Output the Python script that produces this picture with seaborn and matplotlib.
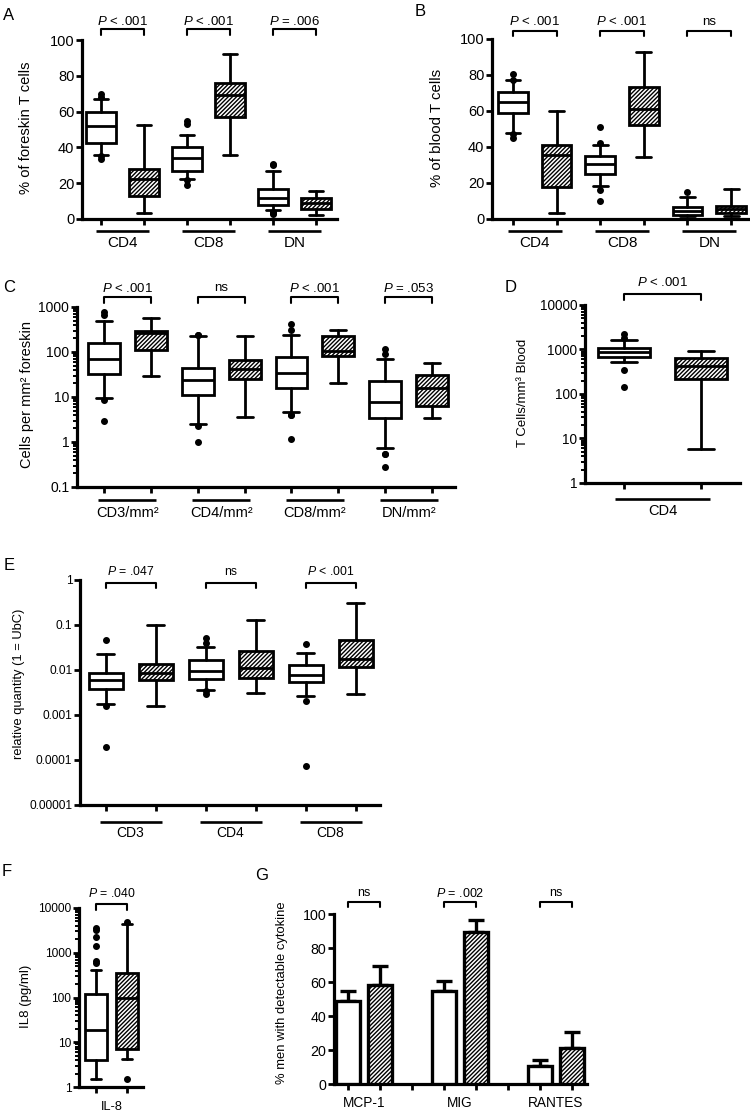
import numpy as np
import pandas as pd
import matplotlib
matplotlib.use("Agg")
import matplotlib.pyplot as plt
import matplotlib.transforms as mtransforms
from matplotlib.ticker import LogLocator, NullFormatter, NullLocator
import seaborn as sns

# ---------------- data ----------------
# Panel A: % of foreskin T cells (white = control, hatched = case)
A_groups = ["CD4", "CD8", "DN"]
A_whislo = [35.7, 3.3, 22.3, 36.0, 4.8, 2.4]
A_q1 = [42.7, 13.0, 26.8, 57.2, 8.0, 5.6]
A_med = [51.7, 22.5, 34.2, 69.0, 12.0, 8.9]
A_q3 = [60.0, 27.9, 40.3, 76.2, 16.7, 11.5]
A_whishi = [67.0, 52.6, 47.2, 92.4, 26.8, 15.8]
A_fliers = [[68.0, 69.8, 35.0, 33.6], [], [55.0, 53.0, 22.0, 18.8], [],
            [30.0, 30.6, 4.1, 3.2, 3.0], []]
A_pvals = ["P < .001", "P < .001", "P = .006"]

# Panel B: % of blood T cells
B_groups = ["CD4", "CD8", "DN"]
B_whislo = [47.8, 3.3, 18.1, 34.4, 1.5, 1.9]
B_q1 = [59.0, 17.6, 25.2, 52.2, 2.2, 3.1]
B_med = [65.0, 35.6, 30.6, 61.3, 4.6, 5.6]
B_q3 = [70.6, 41.0, 35.2, 73.1, 6.9, 7.4]
B_whishi = [77.2, 60.2, 41.3, 92.6, 12.0, 16.9]
B_fliers = [[80.7, 77.5, 45.0, 47.0], [], [51.0, 42.2, 16.3, 10.0], [], [14.8], []]
B_pvals = ["P < .001", "P < .001", "ns"]

# Panel C: cells per mm2 foreskin (log)
C_groups = ["CD3/mm²", "CD4/mm²", "CD8/mm²", "DN/mm²"]
C_whislo = [9.5, 29.0, 2.55, 3.65, 4.7, 20.5, 0.74, 3.5]
C_q1 = [32.0, 111.0, 10.9, 24.7, 15.9, 83.0, 3.4, 6.4]
C_med = [71.0, 260.0, 23.5, 42.6, 34.0, 103.0, 7.9, 16.0]
C_q3 = [158.0, 288.0, 45.0, 65.0, 77.0, 227.0, 22.7, 31.0]
C_whishi = [480.0, 580.0, 231.0, 231.0, 235.0, 313.0, 71.0, 57.0]
C_fliers = [[760.0, 676.0, 8.7, 2.9], [], [240.0, 240.0, 2.27, 1.0], [],
            [425.0, 313.0, 4.0, 3.9, 1.19], [], [118.0, 89.0, 0.55, 0.55, 0.28], []]
C_pvals = ["P < .001", "ns", "P < .001", "P = .053"]

# Panel D: T cells / mm3 blood (log)
D_groups = ["CD4"]
D_whislo = [515.0, 5.9]
D_q1 = [689.0, 216.0]
D_med = [880.0, 426.0]
D_q3 = [1097.0, 634.0]
D_whishi = [1635.0, 940.0]
D_fliers = [[2196.0, 1840.0, 346.0, 140.0], []]
D_pvals = ["P < .001"]

# Panel E: relative quantity (1 = UbC) (log)
E_groups = ["CD3", "CD4", "CD8"]
E_whislo = [0.00167, 0.00158, 0.0035, 0.0030, 0.0026, 0.0028]
E_q1 = [0.0036, 0.0057, 0.0062, 0.0065, 0.0053, 0.0113]
E_med = [0.0057, 0.0084, 0.0095, 0.0107, 0.0074, 0.0173]
E_q3 = [0.0084, 0.0134, 0.0159, 0.0264, 0.0127, 0.0464]
E_whishi = [0.0223, 0.097, 0.0319, 0.129, 0.0234, 0.293]
E_fliers = [[0.045, 0.00153, 0.00019], [], [0.0497, 0.039, 0.0033, 0.0028], [],
            [0.0366, 0.0020, 0.0000711], []]
E_pvals = ["P = .047", "ns", "P < .001"]

# Panel F: IL8 (pg/ml) (log)
F_groups = ["IL-8"]
F_whislo = [1.5, 4.2]
F_q1 = [4.0, 6.9]
F_med = [18.7, 99.0]
F_q3 = [118.0, 348.0]
F_whishi = [414.0, 4370.0]
F_fliers = [[3500.0, 3270.0, 2200.0, 1430.0, 670.0, 600.0], [4760.0, 1.5]]
F_pvals = ["P = .040"]

# Panel G: % men with detectable cytokine
G_cytokines = ["MCP-1", "MIG", "RANTES"]
G_control = [49.0, 55.0, 10.5]
G_control_err = [6.0, 5.5, 3.5]
G_case = [58.0, 89.5, 21.0]
G_case_err = [11.5, 7.0, 9.7]
G_pvals = ["ns", "P = .002", "ns"]

# ---------------- style ----------------
sns.set_theme(style="ticks", rc={
    "axes.edgecolor": "black", "xtick.color": "black", "ytick.color": "black",
    "text.color": "black", "axes.labelcolor": "black"})
plt.rcParams['font.family'] = ['Liberation Sans', 'DejaVu Sans']
plt.rcParams['mathtext.fontset'] = 'custom'
plt.rcParams['mathtext.rm'] = 'Liberation Sans'
plt.rcParams['mathtext.it'] = 'Liberation Sans:italic'
plt.rcParams['hatch.linewidth'] = 1.0
plt.rcParams['hatch.color'] = '#222222'

HATCH = '////////'
LW = 2.0
W, H = 750, 1117
fig = plt.figure(figsize=(W / 100, H / 100), dpi=100)


def fy(py):
    return 1 - py / H


def make_ax(l, t, r, b):
    return fig.add_axes([l / W, 1 - b / H, (r - l) / W, (b - t) / H])


def fmt(v):
    return np.format_float_positional(float(v), trim='-')


def ptext(s):
    return r"$P$" + s[1:] if s.startswith("P") else s


def style_ax(ax, tick_fs):
    for s in ['top', 'right']:
        ax.spines[s].set_visible(False)
    for s in ['left', 'bottom']:
        ax.spines[s].set_linewidth(2.3)
        ax.spines[s].set_color('black')
    ax.tick_params(axis='both', which='major', length=4.5, width=2, color='black',
                   labelsize=tick_fs, pad=1)
    ax.tick_params(axis='y', which='minor', length=3.2, width=1.4, color='black')
    ax.tick_params(axis='x', which='minor', length=0)


def bracket(ax, x1, x2, y_line, y_leg, text, y_text, fs):
    tr = mtransforms.blended_transform_factory(ax.transData, fig.transFigure)
    ax.plot([x1, x1, x2, x2], [fy(y_leg), fy(y_line), fy(y_line), fy(y_leg)],
            transform=tr, color='black', lw=1.5, clip_on=False)
    ax.text((x1 + x2) / 2, fy(y_text), ptext(text), transform=tr, ha='center',
            va='center', fontsize=fs)


def box_panel(rect, xlim, ylim, groups, lo, q1, med, q3, hi, fliers, pvals,
              yticks, log=False, minor=False, tick_fs=11, group_fs=11, p_fs=9.5,
              underline_y=None, label_y=None, br=None):
    ax = make_ax(*rect)
    n = len(lo)
    pos = np.arange(1, n + 1)
    stats = [dict(whislo=lo[i], q1=q1[i], med=med[i], q3=q3[i], whishi=hi[i],
                  fliers=np.array(fliers[i])) for i in range(n)]
    bp = ax.bxp(stats, positions=pos, widths=0.68, capwidths=0.34,
                patch_artist=True, manage_ticks=False,
                boxprops=dict(facecolor='white', edgecolor='black', linewidth=LW),
                whiskerprops=dict(color='black', linewidth=LW),
                capprops=dict(color='black', linewidth=LW),
                medianprops=dict(color='black', linewidth=LW, solid_capstyle='butt'),
                flierprops=dict(marker='o', markerfacecolor='black',
                                markeredgecolor='black', markersize=4,
                                linestyle='none'))
    for i, b in enumerate(bp['boxes']):
        if i % 2:
            b.set_hatch(HATCH)
    if log:
        ax.set_yscale('log')
    ax.set_xlim(*xlim)
    ax.set_ylim(*ylim)
    ax.set_xticks(pos)
    ax.set_xticklabels([])
    ax.set_yticks(yticks, labels=[fmt(v) for v in yticks])
    if minor:
        ax.yaxis.set_minor_locator(LogLocator(base=10, subs=np.arange(2, 10), numticks=50))
        ax.yaxis.set_minor_formatter(NullFormatter())
    else:
        ax.yaxis.set_minor_locator(NullLocator())
    style_ax(ax, tick_fs)
    tr = mtransforms.blended_transform_factory(ax.transData, fig.transFigure)
    for g, name in enumerate(groups):
        a, b = pos[2 * g], pos[2 * g + 1]
        if underline_y is not None:
            ax.plot([a - 0.12, b + 0.12], [fy(underline_y)] * 2, transform=tr,
                    color='black', lw=1.9, clip_on=False, solid_capstyle='butt')
        ax.text((a + b) / 2, fy(label_y), name, transform=tr, ha='center',
                va='center', fontsize=group_fs)
        bracket(ax, a, b, br[0], br[1], pvals[g], br[2], p_fs)
    return ax


# ---------------- Panel A ----------------
box_panel((82, 40, 337, 219), (0.558, 6.49), (0, 100), A_groups, A_whislo, A_q1,
          A_med, A_q3, A_whishi, A_fliers, A_pvals, [0, 20, 40, 60, 80, 100],
          tick_fs=10.5, group_fs=11, p_fs=9.5, underline_y=231, label_y=243,
          br=(29.3, 34.5, 21.5))
fig.text(26 / W, fy(128), "% of foreskin T cells", rotation=90, ha='center',
         va='center', fontsize=10.6)
fig.text(9 / W, fy(15.5), "A", ha='center', va='center', fontsize=12)

# ---------------- Panel B ----------------
box_panel((492, 39, 749, 219), (0.52, 6.41), (0, 100), B_groups, B_whislo, B_q1,
          B_med, B_q3, B_whishi, B_fliers, B_pvals, [0, 20, 40, 60, 80, 100],
          tick_fs=10.5, group_fs=11, p_fs=9.5, underline_y=231, label_y=243,
          br=(31, 35.7, 21.7))
fig.text(437 / W, fy(128), "% of blood T cells", rotation=90, ha='center',
         va='center', fontsize=10.8)
fig.text(420 / W, fy(11), "B", ha='center', va='center', fontsize=12)

# ---------------- Panel C ----------------
box_panel((77, 307, 455, 487), (0.424, 8.49), (0.1, 1000), C_groups, C_whislo, C_q1,
          C_med, C_q3, C_whishi, C_fliers, C_pvals, [0.1, 1, 10, 100, 1000],
          log=True, minor=True, tick_fs=10, group_fs=10.5, p_fs=9.5,
          underline_y=500, label_y=513, br=(296.7, 303, 288.3))
fig.text(27 / W, fy(395), "Cells per mm² foreskin", rotation=90, ha='center',
         va='center', fontsize=10.5)
fig.text(9 / W, fy(287), "C", ha='center', va='center', fontsize=12)

# ---------------- Panel D ----------------
box_panel((585, 305, 740, 483), (0.494, 2.506), (1, 10000), D_groups, D_whislo, D_q1,
          D_med, D_q3, D_whishi, D_fliers, D_pvals, [1, 10, 100, 1000, 10000],
          log=True, minor=True, tick_fs=9.8, group_fs=10.5, p_fs=9.5,
          underline_y=499, label_y=511, br=(294.3, 300, 283))
fig.text(523 / W, fy(392.5), "T Cells/mm³ Blood", rotation=90, ha='center',
         va='center', fontsize=9.5)
fig.text(511 / W, fy(288), "D", ha='center', va='center', fontsize=12)

# ---------------- Panel E ----------------
box_panel((80, 579.5, 380, 804.5), (0.49, 6.49), (0.00001, 1), E_groups, E_whislo,
          E_q1, E_med, E_q3, E_whishi, E_fliers, E_pvals,
          [0.00001, 0.0001, 0.001, 0.01, 0.1, 1], log=True, minor=False,
          tick_fs=8.6, group_fs=10, p_fs=8.8, underline_y=822, label_y=833,
          br=(582.7, 588.3, 571.7))
fig.text(19 / W, fy(684), "relative quantity (1 = UbC)", rotation=90, ha='center',
         va='center', fontsize=9.3)
fig.text(9 / W, fy(566), "E", ha='center', va='center', fontsize=12)

# ---------------- Panel F ----------------
box_panel((79, 908, 143, 1087), (0.452, 2.516), (1, 10000), F_groups, F_whislo, F_q1,
          F_med, F_q3, F_whishi, F_fliers, F_pvals, [1, 10, 100, 1000, 10000],
          log=True, minor=True, tick_fs=8.6, group_fs=9.2, p_fs=8.8,
          underline_y=None, label_y=1107, br=(904.3, 910, 893.3))
fig.text(26 / W, fy(996.7), "IL8 (pg/ml)", rotation=90, ha='center',
         va='center', fontsize=9.5)
fig.text(7 / W, fy(872), "F", ha='center', va='center', fontsize=12)

# ---------------- Panel G (seaborn bars) ----------------
axG = make_ax(334, 914, 587, 1084)
g_pos_ctrl = [3 * i for i in range(len(G_cytokines))]
g_pos_case = [3 * i + 1 for i in range(len(G_cytokines))]
dfG = pd.DataFrame({
    "pos": g_pos_ctrl + g_pos_case,
    "value": G_control + G_case,
    "err": G_control_err + G_case_err,
    "group": ["control"] * len(G_control) + ["case"] * len(G_case),
})
sns.barplot(data=dfG, x="pos", y="value", native_scale=True, width=0.73,
            color="white", saturation=1, edgecolor="black", linewidth=2.4,
            errorbar=None, ax=axG)
for p in axG.patches:
    xc = p.get_x() + p.get_width() / 2
    if any(abs(xc - c) < 0.01 for c in g_pos_case):
        p.set_hatch(HATCH)
    p.set_zorder(3)
axG.errorbar(dfG["pos"], dfG["value"], yerr=[np.zeros(len(dfG)), dfG["err"]],
             fmt='none', ecolor='black', elinewidth=2.4, capsize=6, capthick=2.4,
             zorder=2)
axG.set_xlim(-0.44, 7.47)
axG.set_ylim(0, 100)
axG.set_xticks(np.arange(0, 8))
axG.set_xticklabels([])
axG.set_yticks([0, 20, 40, 60, 80, 100], labels=[fmt(v) for v in [0, 20, 40, 60, 80, 100]])
axG.set_xlabel("")
axG.set_ylabel("")
style_ax(axG, 10.3)
trG = mtransforms.blended_transform_factory(axG.transData, fig.transFigure)
for i, name in enumerate(G_cytokines):
    a, b = g_pos_ctrl[i], g_pos_case[i]
    axG.text((a + b) / 2, fy(1103), name, transform=trG, ha='center', va='center',
             fontsize=9.8)
    bracket(axG, a, b, 901.7, 906.5, G_pvals[i], 893.3, 9)
fig.text(282 / W, fy(993), "% men with detectable cytokine", rotation=90,
         ha='center', va='center', fontsize=9.4)
fig.text(262 / W, fy(875), "G", ha='center', va='center', fontsize=12)

fig.savefig("out.png", dpi=100)
